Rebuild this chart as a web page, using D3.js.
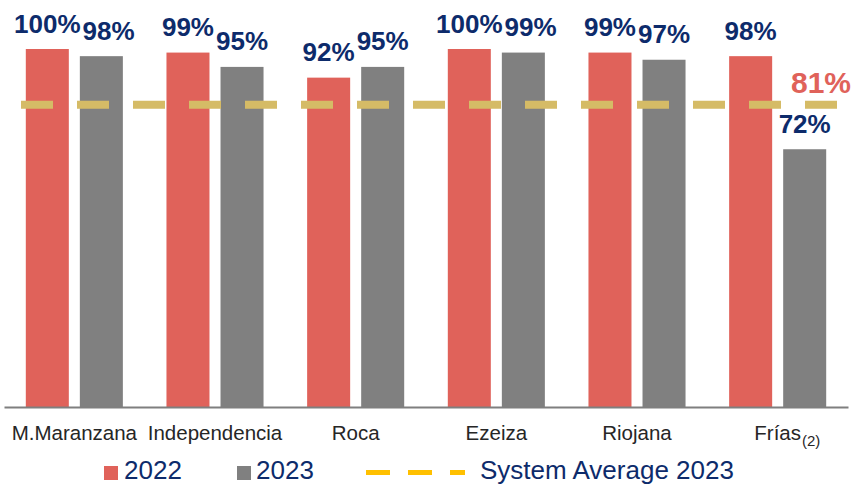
<!DOCTYPE html>
<html>
<head>
<meta charset="utf-8">
<script src="https://cdn.jsdelivr.net/npm/d3@7"></script>
<style>
  body { margin: 0; background: #fff; }
  text { font-family: "Liberation Sans", Arial, sans-serif; }
</style>
</head>
<body>
<div id="chart"></div>
<script>
// data
const plants = ["M.Maranzana", "Independencia", "Roca", "Ezeiza", "Riojana", "Frías"];
const footnotes = ["", "", "", "", "", "(2)"];
const years = ["2022", "2023"];
const values2022 = [100, 99, 92, 100, 99, 98];
const values2023 = [98, 95, 95, 99, 97, 72];
const avgLabel = "81%";
const avgLineLevel = 84.4; // where the dashed line is drawn in the picture

const W = 854, H = 485;
const colors = {"2022": "#E0625A", "2023": "#808080"};
const navy = "#0D2B6B";

const svg = d3.select("#chart").append("svg")
  .attr("width", W).attr("height", H);

const rows = plants.map((p, i) => ({plant: p, note: footnotes[i], "2022": values2022[i], "2023": values2023[i]}));

// scales
const x0 = d3.scaleBand().domain(plants).range([4, 848]).paddingInner(0.31).paddingOuter(0.155);
const x1 = d3.scaleBand().domain(years).range([0, x0.bandwidth()]).paddingInner(0.204);
const y = d3.scaleLinear().domain([0, 100]).range([407, 49]);

// bars
const groups = svg.selectAll(".grp").data(rows).join("g")
  .attr("class", "grp")
  .attr("transform", d => `translate(${x0(d.plant)},0)`);

groups.selectAll("rect")
  .data(d => years.map(yr => ({yr, v: d[yr]})))
  .join("rect")
    .attr("x", d => x1(d.yr))
    .attr("width", x1.bandwidth())
    .attr("y", d => y(d.v))
    .attr("height", d => y(0) - y(d.v))
    .attr("fill", d => colors[d.yr]);

// x axis
const xAxis = svg.append("g")
  .attr("transform", `translate(0,${y(0)})`)
  .call(d3.axisBottom(d3.scaleBand().domain(plants).range([4, 848])).tickSize(0).tickSizeOuter(0));
xAxis.select(".domain").attr("stroke", "#7F7F7F").attr("stroke-width", 2);
xAxis.selectAll(".tick text")
  .attr("y", 33).attr("dy", 0)
  .style("font-size", "20.5px").attr("fill", "#262626")
  .each(function(d, i) {
    if (!footnotes[i]) return;
    const w = this.getComputedTextLength();
    d3.select(this.parentNode).append("text")
      .attr("x", w / 2 + 1).attr("y", 39)
      .attr("text-anchor", "start")
      .style("font-size", "15px").attr("fill", "#262626")
      .text(footnotes[i]);
  });

// system average dashed line
const lineY = y(avgLineLevel);
svg.append("line")
  .attr("x1", 21).attr("x2", 837)
  .attr("y1", lineY).attr("y2", lineY)
  .attr("stroke", "#D5BB66").attr("stroke-width", 8)
  .attr("stroke-dasharray", "32,24");

svg.append("text")
  .attr("x", 821).attr("y", lineY - 12)
  .attr("text-anchor", "middle")
  .style("font-size", "30px").style("font-weight", "bold")
  .attr("fill", "#E0625A")
  .text(avgLabel);

// value labels
rows.forEach(d => {
  let prevRight = -Infinity;
  years.forEach(yr => {
    const cx = x0(d.plant) + x1(yr) + x1.bandwidth() / 2;
    const top = y(d[yr]);
    let base = top - 16.5;
    // keep label clear of the dashed line
    if (top > lineY && base - 19 < lineY + 6) base = top - 10;
    const t = svg.append("text")
      .attr("y", base)
      .attr("text-anchor", "middle")
      .style("font-size", "26px").style("font-weight", "bold")
      .attr("fill", navy)
      .text(d[yr] + "%");
    const w = t.node().getComputedTextLength();
    let left = cx - w / 2;
    if (left < prevRight + 2) left = prevRight + 2;
    t.attr("x", left + w / 2);
    prevRight = left + w;
  });
});

// legend
const leg = svg.append("g");
leg.append("rect").attr("x", 104).attr("y", 466).attr("width", 14).attr("height", 14).attr("fill", colors["2022"]);
leg.append("text").attr("x", 124).attr("y", 479).text("2022")
  .style("font-size", "26px").attr("fill", navy);
leg.append("rect").attr("x", 237).attr("y", 466).attr("width", 14).attr("height", 14).attr("fill", colors["2023"]);
leg.append("text").attr("x", 256).attr("y", 479).text("2023")
  .style("font-size", "26px").attr("fill", navy);
leg.append("line").attr("x1", 366).attr("x2", 465).attr("y1", 472.5).attr("y2", 472.5)
  .attr("stroke", "#FFC000").attr("stroke-width", 5).attr("stroke-dasharray", "24,18");
leg.append("text").attr("x", 480).attr("y", 479).text("System Average 2023")
  .style("font-size", "26px").attr("fill", navy);
</script>
</body>
</html>
